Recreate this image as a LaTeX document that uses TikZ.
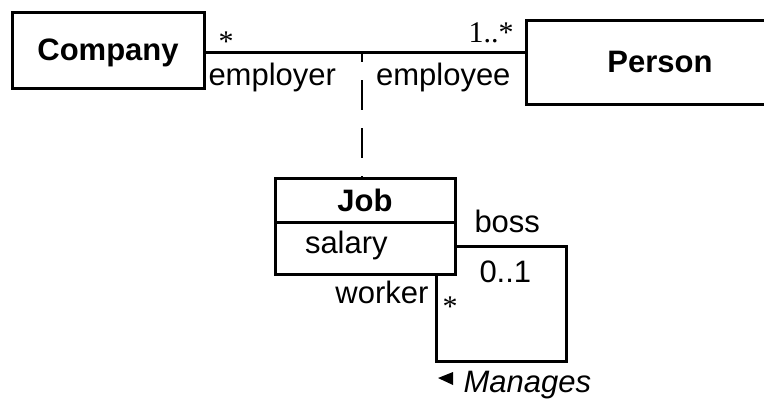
\documentclass[tikz,border=0pt]{standalone}
\usepackage{fontspec}
\setmainfont{Liberation Sans}
\newfontfamily\timesfont{Liberation Serif}
\usetikzlibrary{arrows,positioning}

\begin{document}
\begin{tikzpicture}[x=1pt,y=-1pt,line width=3pt,
            font=\fontsize{31}{36}\selectfont]
            \tikzstyle{class}=[draw,rectangle,inner sep=0pt,outer sep=0pt,text depth=0pt]
            \tikzstyle{role}=[inner sep=0pt]
            \tikzstyle{mult}=[inner sep=0pt,font=\fontsize{30}{36}\timesfont]
            \useasboundingbox (0,0) rectangle (764,400);

            % classes
            \node[class,minimum width=192pt,minimum height=76pt] (company) at (108,50) {\textbf{Company}};
            \node[class,minimum width=268pt,minimum height=84pt] (person) at (660,62) {\textbf{Person}};
            \node[class,minimum width=180pt,minimum height=44pt] (job) at (365,200) {\textbf{Job}};
            \node[class,minimum width=180pt,minimum height=52pt,text width=120pt,inner xsep=30pt,
                  text depth=12pt,align=left,below=0pt of job] (salary) {salary};

            \coordinate (assoc) at (362,52);
            \coordinate (loop) at (566,361);

            % from company to person
            \draw (company.east |- assoc) -- (assoc -| person.west);
            \draw[line width=2pt,dash pattern=on 30pt off 18pt,dash phase=20pt] (assoc) -- (assoc |- job.north);

            % from job to job
            \draw ([yshift=2pt]salary.east) -| (loop) -| ([xshift=-19pt]salary.south east);

            % ends
            \node[mult,anchor=base] (companystar) at (226,51) {*};
            \node[role,anchor=base west] (employer) at (207,85) {employer};
            \node[mult,anchor=base east] (personmult) at (515,42) {1..*};
            \node[role,anchor=base east] (employee) at (512,85) {employee};
            \node[role,anchor=base west] (boss) at (473,232) {boss};
            \node[role,anchor=base west] (bossmult) at (478,282) {0..1};
            \node[role,anchor=base east] (worker) at (430,303) {worker};
            \node[mult,anchor=base] (workerstar) at (450,316) {*};

            % name
            \fill (438,378) -- (453,372) -- (453,385) -- cycle;
            \node[role,anchor=base west] (manages) at (462,392) {\textit{Manages}};
\end{tikzpicture}
\end{document}
